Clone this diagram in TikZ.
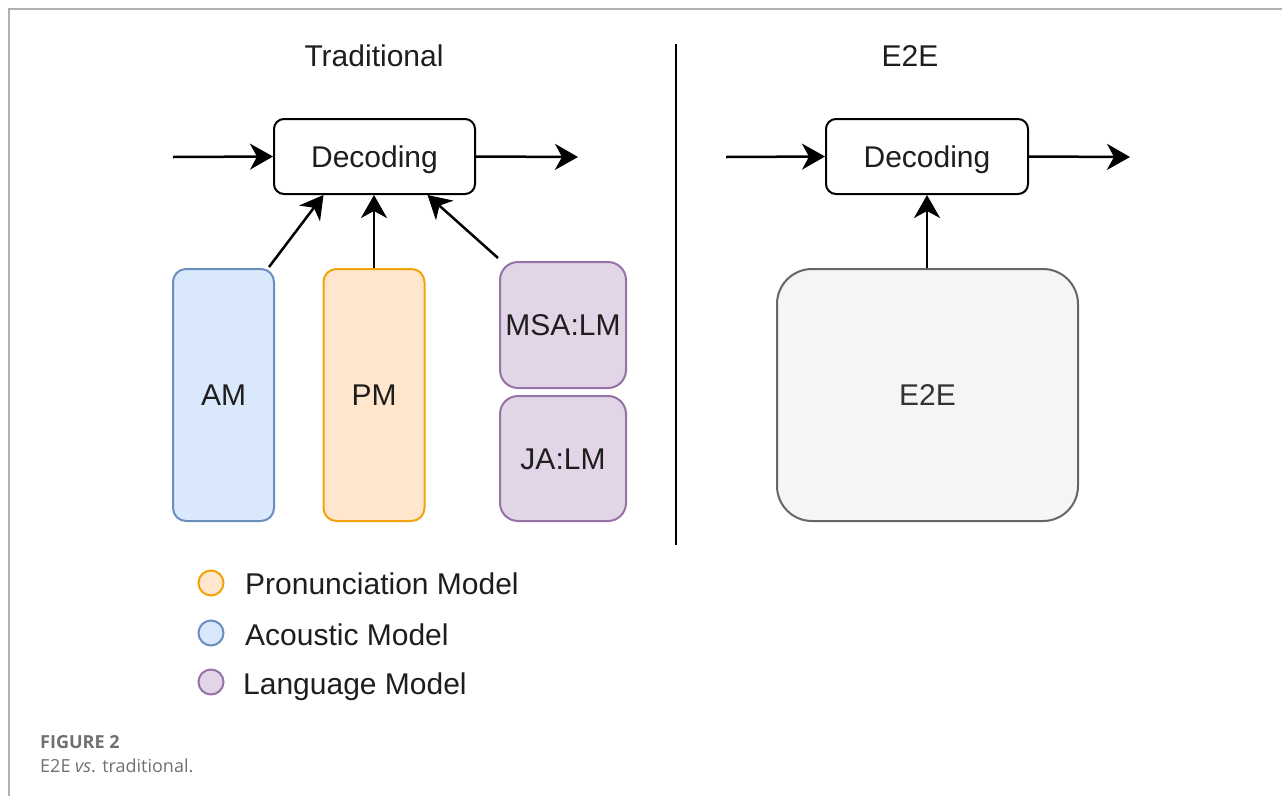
\documentclass[tikz,border=0pt]{standalone}
\usepackage{fontspec}
\setmainfont{Liberation Sans}
\newfontfamily\capfont{Open Sans}
\usetikzlibrary{arrows.meta}
\definecolor{amfill}{HTML}{DAE8FC}\definecolor{amline}{HTML}{6C8EBF}
\definecolor{pmfill}{HTML}{FFE6CC}\definecolor{pmline}{HTML}{F0A30A}
\definecolor{lmfill}{HTML}{E1D5E7}\definecolor{lmline}{HTML}{9673A6}
\definecolor{e2efill}{HTML}{F5F5F5}\definecolor{e2eline}{HTML}{666666}
\definecolor{txt}{HTML}{1E1E1E}
\definecolor{capgray}{HTML}{707070}
\definecolor{framegray}{HTML}{B0B0B0}
\tikzset{
  x=1pt, y=-1pt,
  lbl/.style={font=\fontsize{30}{34}\selectfont, text=txt},
  box/.style={draw, line width=2pt, inner sep=0pt, lbl, anchor=center,
    text height=21.5pt, text depth=0pt},
  decbox/.style={box, draw=black, fill=white, rounded corners=10pt,
    minimum width=201pt, minimum height=75pt},
  tallbox/.style={box, rounded corners=13pt, minimum width=101pt, minimum height=252pt},
  lmbox/.style={box, draw=lmline, fill=lmfill, rounded corners=18pt,
    minimum width=126pt, minimum height=126pt},
  flow/.style={line width=2.5pt, -{Stealth[length=23pt,width=26pt,inset=7pt]}},
  dot/.style={circle, draw, line width=2pt, minimum size=25pt, inner sep=0pt},
  legtext/.style={lbl, anchor=base west, inner sep=0pt},
}
\begin{document}
\begin{tikzpicture}
\useasboundingbox (0,0) rectangle (1282,796);
% frame
\draw[framegray, line width=1.5pt] (9,796) -- (9,9) -- (1282,9);

% titles and divider
\node[lbl, text height=21.5pt, text depth=0pt, inner sep=0pt] (ttrad) at (374,56) {Traditional};
\node[lbl, text height=21.5pt, text depth=0pt, inner sep=0pt] (te2e) at (910,56) {E2E};
\coordinate (divtop) at (676,44);
\coordinate (divbot) at (676,545);
\draw[line width=2pt] (divtop) -- (divbot);

% traditional pipeline
\node[decbox] (decl) at (374.5,156.5) {Decoding};
\coordinate (inl) at (173,157);
\coordinate (outl) at (578,157);
\draw[flow] (inl) -- (decl.west);
\draw[flow] (decl.east) -- (outl);

\node[tallbox, draw=amline, fill=amfill] (am) at (223.5,395) {AM};
\node[tallbox, draw=pmline, fill=pmfill] (pm) at (374,395) {PM};
\node[lmbox] (msa) at (563,325) {MSA:LM};
\node[lmbox, minimum height=125pt] (ja) at (563,458.5) {JA:LM};

\draw[flow] ([xshift=-6pt,yshift=1pt]am.north east) -- ([xshift=-51pt]decl.south);
\draw[flow] (pm.north) -- (pm.north |- decl.south);
\draw[flow] ([xshift=-1pt,yshift=3pt]msa.north west) -- ([xshift=53pt]decl.south);

% end-to-end pipeline
\node[decbox, minimum width=202pt] (decr) at (927,156.5) {Decoding};
\coordinate (inr) at (726,157);
\coordinate (outr) at (1130,157);
\draw[flow] (inr) -- (decr.west);
\draw[flow] (decr.east) -- (outr);

\node[box, draw=e2eline, fill=e2efill, rounded corners=35pt,
  minimum width=301pt, minimum height=252pt, text=black!80] (e2e) at (927.5,395) {E2E};
\draw[flow] (e2e.north -| decr.south) -- (decr.south);

% legend
\node[dot, draw=pmline, fill=pmfill] (lpm) at (211,583) {};
\node[legtext] (tpm) at (245,594) {Pronunciation Model};
\node[dot, draw=amline, fill=amfill] (lam) at (211,633) {};
\node[legtext] (tam) at (245,645) {Acoustic Model};
\node[dot, draw=lmline, fill=lmfill] (llm) at (211,682) {};
\node[legtext] (tlm) at (243,694) {Language Model};

% caption
\node[anchor=west, inner sep=0pt, text=capgray, font=\capfont\bfseries\fontsize{18}{22}\selectfont] (figno) at (40,742) {FIGURE 2};
\node[anchor=west, inner sep=0pt, text=capgray, font=\capfont\fontsize{18}{22}\selectfont] (figcap) at (40,766) {E2E \textit{vs}. traditional.};
\end{tikzpicture}
\end{document}
